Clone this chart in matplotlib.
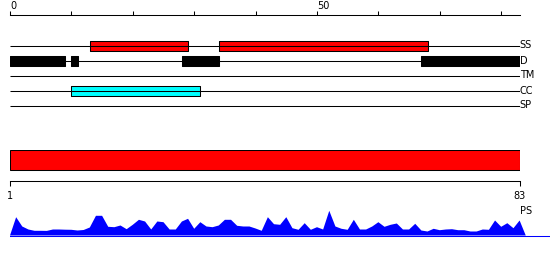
import numpy as np
import matplotlib
matplotlib.use("Agg")
import matplotlib.pyplot as plt

# ---- data ----
seq_len = 83

# feature tracks, regions given as (start, end) in residues
track_names = ["SS", "D", "TM", "CC", "SP"]
ss_regions = [(13, 29), (34, 68)]
d_regions = [(0, 9), (10, 11), (28, 34), (67, 83)]
tm_regions = []
cc_regions = [(10, 31)]
sp_regions = []

track_regions = [ss_regions, d_regions, tm_regions, cc_regions, sp_regions]
track_colors = ["#ff0000", "#000000", "#000000", "#00ffff", "#000000"]

# one domain covering the whole sequence
domain_start = 1
domain_end = 83

# top ruler
ruler_ticks = [0, 10, 20, 30, 40, 50, 60, 70, 80]
ruler_labels = ["0", "", "", "", "", "50", "", "", ""]

# bottom ruler
scale_ticks = [1, 83]
scale_labels = ["1", "83"]

# PS profile, one value per residue (1..83)
ps_values = [18.3, 9, 6, 4.7, 4.7, 4.6, 6, 6, 5.8, 5.7,
             5, 5.5, 8, 19.7, 19.7, 8.7, 8.3, 10, 6.3, 10.7,
             15.7, 14, 6, 14, 13.3, 6, 6, 14, 16.7, 6.7,
             13.3, 9, 8.3, 10, 15.7, 15.7, 9.7, 9, 9, 7,
             4.7, 18.3, 11.3, 10.7, 18.3, 7.3, 5.7, 12.3, 5.7, 8.3,
             6, 24.7, 9, 6.7, 5.7, 15.7, 6, 6, 9, 13.3,
             8.7, 10.7, 12, 6, 6, 11.7, 5, 4, 6.7, 5.3,
             6, 6.3, 5.3, 5.3, 4, 4, 6, 5.7, 15, 8.7,
             12.3, 7.3, 15]

# ---- layout (pixels) ----
W, H = 550, 260
x0 = 10          # left edge of the sequence
ppu = 6.14       # pixels per residue
lw = 0.75        # about one pixel

fig = plt.figure(figsize=(W / 100, H / 100), dpi=100)


def px_axes(left, top, width, height):
    ax = fig.add_axes([left / W, 1 - (top + height) / H, width / W, height / H])
    ax.patch.set_alpha(0)
    for s in ax.spines.values():
        s.set_visible(False)
    return ax


# top ruler
ax = px_axes(x0, 15.5, seq_len * ppu, 5)
ax.set_xlim(0, seq_len)
ax.spines["top"].set_visible(True)
ax.spines["top"].set_linewidth(lw)
ax.xaxis.tick_top()
ax.set_xticks(ruler_ticks)
ax.set_xticklabels(ruler_labels)
ax.tick_params(axis="x", direction="out", length=3, width=lw, pad=0, labelsize=7)
for lbl in ax.get_xticklabels():
    lbl.set_horizontalalignment("left")
ax.set_yticks([])

# feature tracks
ax = px_axes(x0, 30.5, seq_len * ppu, 90)
ax.set_xlim(0, seq_len)
ax.set_ylim(len(track_names), -1)
ax.set_xticks([])
ax.set_yticks([])
rows = np.arange(len(track_names))
ax.hlines(rows, 0, seq_len, color="black", lw=lw)
for i, name in enumerate(track_names):
    regions = track_regions[i]
    if regions:
        ax.broken_barh([(a, b - a) for a, b in regions], (i - 1 / 3, 2 / 3),
                       facecolors=track_colors[i], edgecolor="black", lw=lw)
    ax.text(seq_len, i, name, ha="left", va="center", fontsize=7, clip_on=False)

# domain bar with bottom ruler
ax = px_axes(x0, 150, seq_len * ppu, 30.5)
ax.set_xlim(domain_start, domain_end)
ax.set_ylim(-1.025, 0.5)
ax.barh([0], [domain_end - domain_start], left=[domain_start], height=1,
        color="#ff0000", edgecolor="black", lw=lw)
ax.spines["bottom"].set_visible(True)
ax.spines["bottom"].set_linewidth(lw)
ax.set_xticks(scale_ticks)
ax.set_xticklabels(scale_labels)
ax.tick_params(axis="x", direction="out", length=3.6, width=lw, pad=4, labelsize=7)
ax.set_yticks([])

# PS profile
ax = px_axes(x0, 200, W - x0, 40)
ax.set_xlim(0, (W - x0) / ppu)
ax.set_ylim(-4.5, 35.5)
pos = np.arange(1, len(ps_values) + 1)
xs = np.concatenate([[0], pos, [len(ps_values) + 1]])
ys = np.concatenate([[0], ps_values, [0]])
ax.fill(xs, ys, color="#0000ff", lw=0)
ax.axhline(0, color="#0000ff", lw=lw)
ax.text(len(ps_values), 21.5, "PS", ha="left", va="baseline", fontsize=7)
ax.set_xticks([])
ax.set_yticks([])

fig.savefig("out.png", dpi=100, facecolor="white")
